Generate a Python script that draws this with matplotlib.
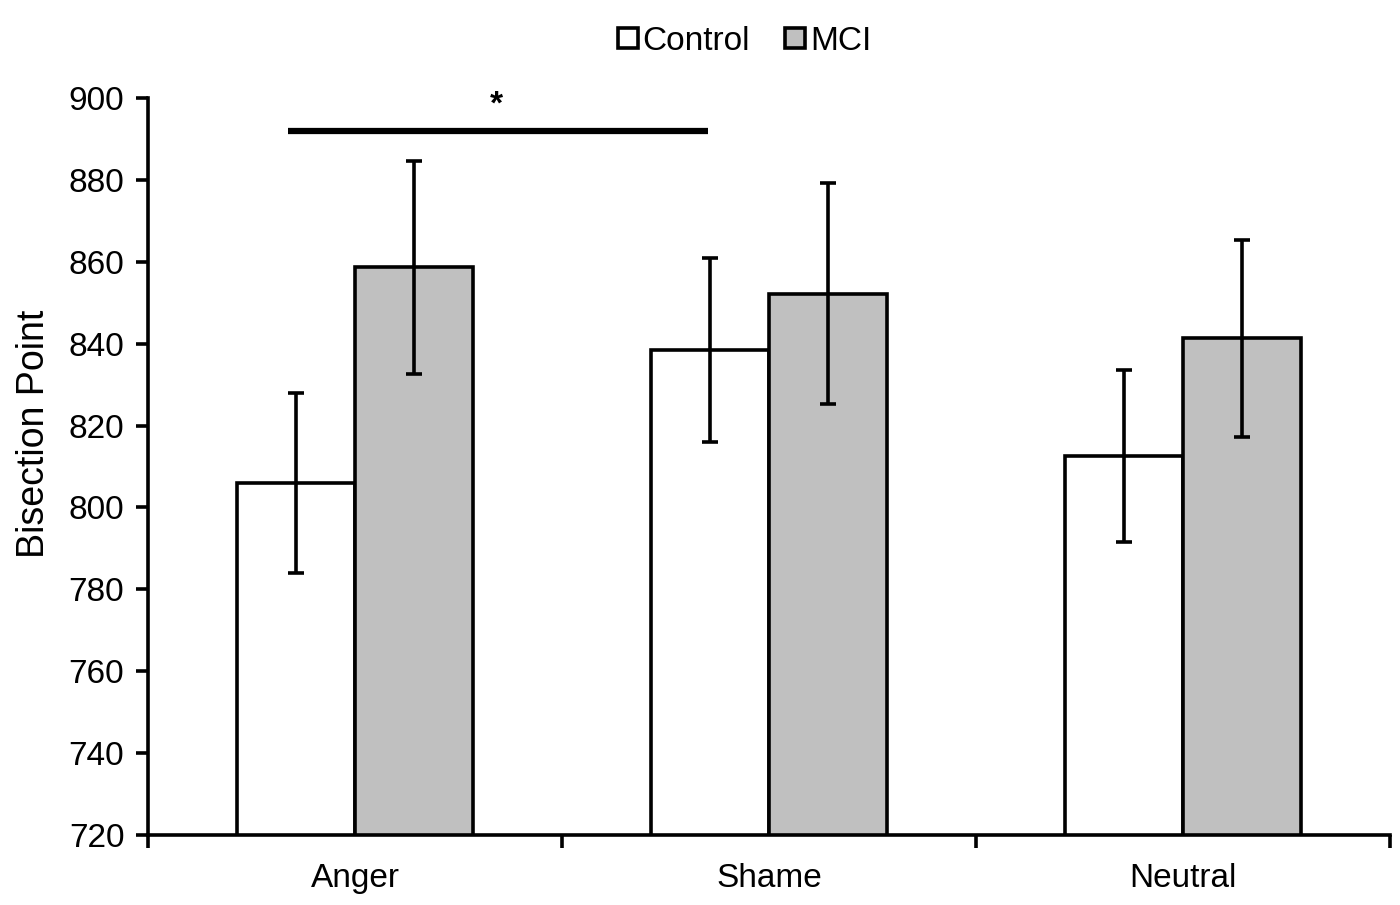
import matplotlib
matplotlib.use("Agg")
import matplotlib.pyplot as plt
from matplotlib.lines import Line2D
import numpy as np

plt.rcParams['font.family'] = ['Liberation Sans', 'DejaVu Sans']

categories = ["Anger", "Shame", "Neutral"]
series_names = ["Control", "MCI"]
control_vals = [806, 838.5, 812.5]
control_err = [22, 22.5, 21]
mci_vals = [858.7, 852.2, 841.3]
mci_err = [26, 27, 24]
yticks = [720, 740, 760, 780, 800, 820, 840, 860, 880, 900]
sig_y = 892
sig_label = "*"

fig = plt.figure(figsize=(14, 9.05), dpi=100)
ax = fig.add_axes([0.1057, 0.0773, 0.8872, 0.8144])

x = np.arange(len(categories))
w = 0.285
lw = 2.6
ax.bar(x - w / 2, control_vals, width=w, bottom=0, color="white", edgecolor="black",
       linewidth=lw, zorder=2)
ax.bar(x + w / 2, mci_vals, width=w, bottom=0, color="#c0c0c0", edgecolor="black",
       linewidth=lw, zorder=2)
ax.errorbar(x - w / 2, control_vals, yerr=control_err, fmt="none", ecolor="black",
            elinewidth=lw, capsize=6, capthick=lw, zorder=3)
ax.errorbar(x + w / 2, mci_vals, yerr=mci_err, fmt="none", ecolor="black",
            elinewidth=lw, capsize=6, capthick=lw, zorder=3)

ax.set_ylim(720, 900)
ax.set_xlim(-0.5, len(categories) - 0.5)
ax.set_yticks(yticks)
ax.set_xticks(x)
ax.set_xticklabels(categories)
ax.set_xticks(np.arange(len(categories) + 1) - 0.5, minor=True)
ax.tick_params(axis="x", which="major", length=0, pad=20, labelsize=24)
ax.tick_params(axis="x", which="minor", length=9, width=lw, direction="out")
ax.tick_params(axis="y", which="major", length=9, width=lw, direction="out",
               labelsize=24, pad=8)
for s in ["top", "right"]:
    ax.spines[s].set_visible(False)
for s in ["left", "bottom"]:
    ax.spines[s].set_linewidth(lw)
ax.set_ylabel("Bisection Point", fontsize=27)
ax.yaxis.set_label_coords(-0.077, 0.544)

# significance bar
ax.plot([x[0] - w / 2 - 0.02, x[1] - w / 2 - 0.005], [sig_y, sig_y], color="black",
        lw=4.5, clip_on=False, solid_capstyle="butt")
ax.text((x[0] + x[1]) / 2 - w / 2 - 0.015, sig_y + 2.5, sig_label, ha="center",
        va="bottom", fontsize=24, fontweight="bold")

handles = [Line2D([], [], marker="s", linestyle="none", markersize=14,
                  markerfacecolor="white", markeredgecolor="black", markeredgewidth=2.6),
           Line2D([], [], marker="s", linestyle="none", markersize=14,
                  markerfacecolor="#c0c0c0", markeredgecolor="black", markeredgewidth=2.6)]
fig.legend(handles, series_names, loc="center", bbox_to_anchor=(0.53, 0.954), ncol=2,
           frameon=False, fontsize=24, handletextpad=0.0, columnspacing=0.9,
           handlelength=0.9)

fig.savefig("out.png", dpi=100)
